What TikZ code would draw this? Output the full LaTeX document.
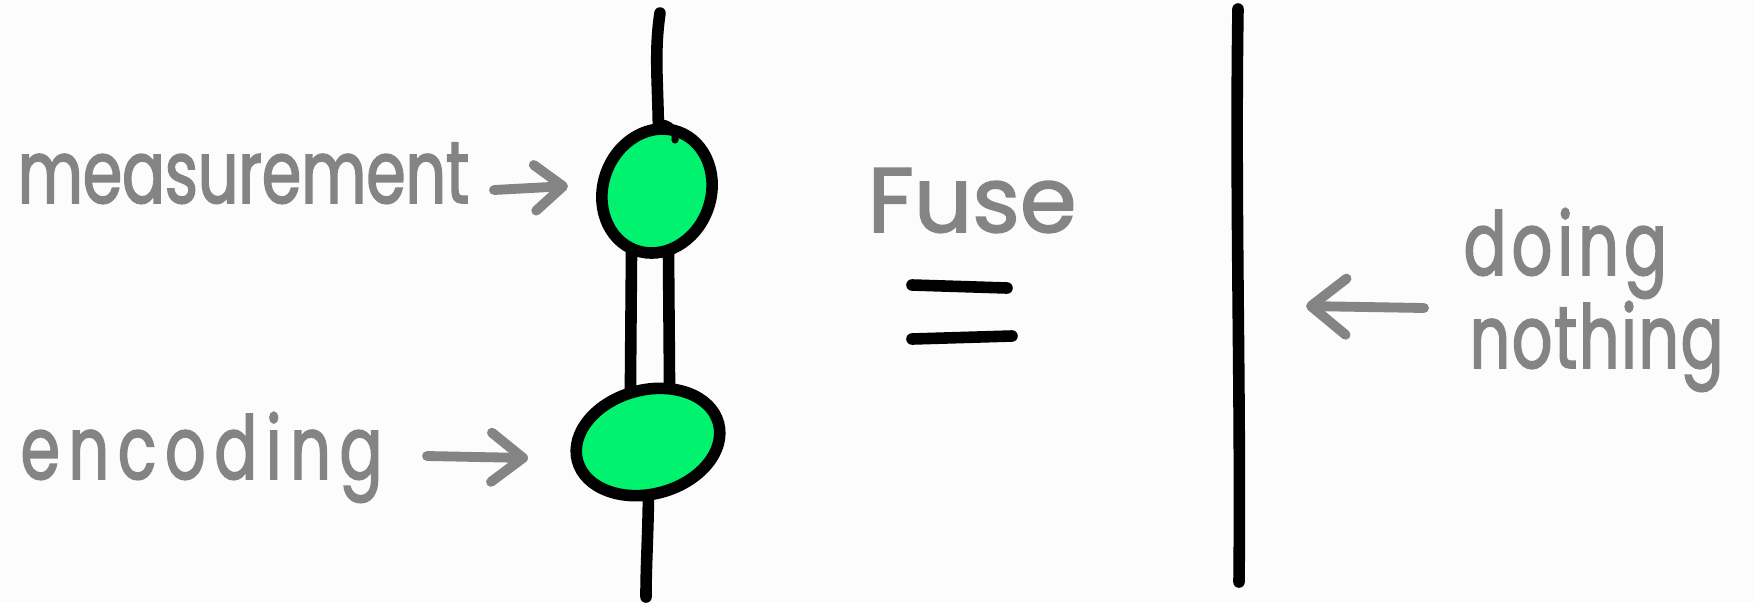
\documentclass[tikz,border=0pt]{standalone}
\usepackage{fontspec}
\usetikzlibrary{shapes.geometric,arrows.meta}

\newfontfamily\hand[FakeStretch=0.72, FakeBold=1.8]{Poppins}
\newfontfamily\handwide[FakeBold=1.8]{Poppins}

\definecolor{blobgreen}{RGB}{0,242,110}
\definecolor{pencil}{RGB}{132,132,132}
\definecolor{paper}{RGB}{252,252,252}

\tikzset{
  wire/.style={line width=3.3pt, line cap=round, black},
  blob/.style={ellipse, draw, line width=3.3pt, fill=blobgreen, inner sep=0pt},
  pointer/.style={line width=2.8pt, line cap=round, pencil,
                  -{Straight Barb[length=8pt, width=13pt, round]}},
  scribble/.style={pencil, inner sep=0pt, anchor=base west}
}

\begin{document}
\begin{tikzpicture}[x=1cm,y=1cm]
      \useasboundingbox (0,0) rectangle (17.54,6.02);
      \fill[paper] (0,0) rectangle (17.54,6.02);

      % wire ends and blob centres
      \coordinate (wtop) at (6.60,5.89);
      \coordinate (wbot) at (6.46,0.05);
      \coordinate (mc)   at (6.57,4.11);
      \coordinate (ec)   at (6.48,1.60);

      % left wire, drawn first so the blobs sit on it
      \draw[wire] (wtop) .. controls (6.52,5.35) and (6.62,5.0) .. (mc);
      \draw[wire] (ec) .. controls (6.50,0.9) and (6.46,0.5) .. (wbot);

      % the two strands between the blobs
      \draw[wire] ([xshift=-0.25cm]mc) -- ([xshift=-0.18cm]ec);
      \draw[wire] ([xshift=0.11cm]mc)  -- ([xshift=0.22cm]ec);

      \node (meas) [blob, minimum width=1.26cm, minimum height=1.08cm, rotate=70] at (mc) {};
      \node (enc)  [blob, minimum width=1.46cm, minimum height=1.04cm, rotate=15] at (ec) {};

      % little curl where the wire enters the top blob
      \draw[wire, line width=2pt] (6.58,4.79) .. controls (6.70,4.80) and (6.76,4.72) .. (6.75,4.62);

      % right wire
      \coordinate (rtop) at (12.38,5.93);
      \coordinate (rbot) at (12.39,0.20);
      \draw[wire] (rtop) .. controls (12.35,4.0) and (12.41,2.0) .. (rbot);

      % equals sign
      \draw[wire] (9.12,3.17) -- (10.07,3.14);
      \draw[wire] (9.12,2.63) -- (10.12,2.66);

      % labels
      \node (lmeas) [scribble, font=\hand\fontsize{25}{25}\selectfont] at (0.17,3.99) {measurement};
      \node (lenc)  [scribble, font=\hand\fontsize{25}{25}\selectfont\addfontfeatures{LetterSpace=10}] at (0.20,1.23) {encoding};
      \node (lfuse) [scribble, font=\handwide\fontsize{26}{26}\selectfont] at (8.67,3.70) {Fuse};
      \node (ldo)   [scribble, font=\hand\fontsize{25}{25}\selectfont\addfontfeatures{LetterSpace=6}] at (14.63,3.27) {doing};
      \node (lnot)  [scribble, font=\hand\fontsize{25}{25}\selectfont\addfontfeatures{LetterSpace=2}] at (14.69,2.34) {nothing};

      % arrows
      \coordinate (ma) at (4.94,4.12);
      \coordinate (mb) at (5.68,4.16);
      \coordinate (ea) at (4.27,1.46);
      \coordinate (eb) at (5.28,1.44);
      \coordinate (na) at (14.24,2.94);
      \coordinate (nb) at (13.06,2.96);

      \draw[pointer] (ma) -- (mb);
      \draw[pointer, -{Straight Barb[length=9pt, width=14pt, round]}] (ea) -- (eb);
      \draw[pointer, -{Straight Barb[length=10pt, width=16pt, round]}] (na) -- (nb);
\end{tikzpicture}
\end{document}
